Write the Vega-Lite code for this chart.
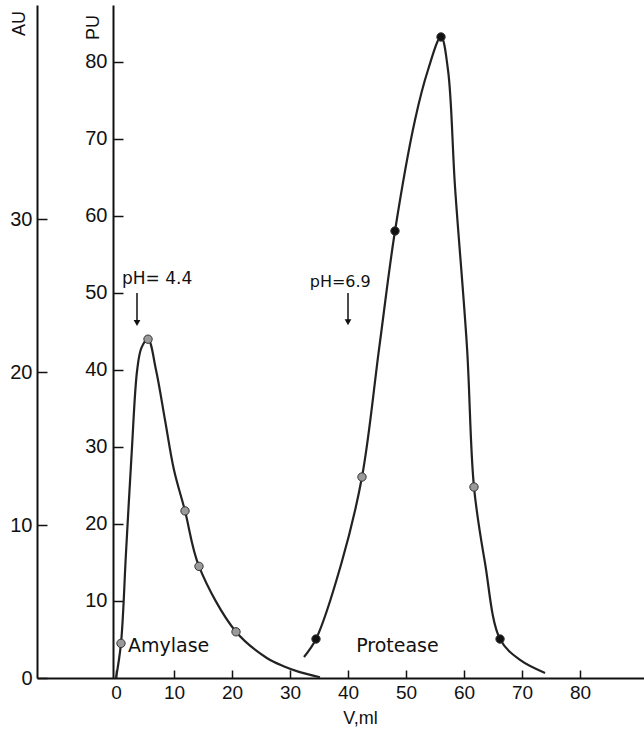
{
  "$schema": "https://vega.github.io/schema/vega-lite/v6.json",
  "width": 607,
  "height": 673,
  "autosize": {"type": "none"},
  "padding": {"left": 37, "top": 5, "right": 0, "bottom": 57},
  "background": "white",
  "config": {
    "view": {"stroke": null},
    "axis": {
      "grid": false,
      "domainColor": "#111",
      "domainWidth": 2,
      "tickColor": "#111",
      "tickWidth": 1.5,
      "labelColor": "#111",
      "titleColor": "#111",
      "labelFont": "Liberation Sans",
      "titleFont": "Liberation Sans",
      "titleFontWeight": "normal"
    }
  },
  "datasets": {
    "curves": [
      {"enzyme": "Amylase", "v": 0, "pu": 0},
      {"enzyme": "Amylase", "v": 0.86, "pu": 4.5},
      {"enzyme": "Amylase", "v": 1.72, "pu": 16.2},
      {"enzyme": "Amylase", "v": 2.7, "pu": 29.2},
      {"enzyme": "Amylase", "v": 3.65, "pu": 40.0},
      {"enzyme": "Amylase", "v": 4.4, "pu": 42.9},
      {"enzyme": "Amylase", "v": 5.52, "pu": 44.0},
      {"enzyme": "Amylase", "v": 6.9, "pu": 40.0},
      {"enzyme": "Amylase", "v": 8.45, "pu": 33.5},
      {"enzyme": "Amylase", "v": 10.0, "pu": 27.0},
      {"enzyme": "Amylase", "v": 11.9, "pu": 21.7},
      {"enzyme": "Amylase", "v": 14.31, "pu": 14.5},
      {"enzyme": "Amylase", "v": 20.69, "pu": 6.0},
      {"enzyme": "Amylase", "v": 26.0, "pu": 2.6},
      {"enzyme": "Amylase", "v": 29.0, "pu": 1.5},
      {"enzyme": "Amylase", "v": 31.55, "pu": 0.8},
      {"enzyme": "Amylase", "v": 35.17, "pu": 0.1},
      {"enzyme": "Protease", "v": 32.41, "pu": 2.73},
      {"enzyme": "Protease", "v": 34.48, "pu": 5.06},
      {"enzyme": "Protease", "v": 38.9, "pu": 15.0},
      {"enzyme": "Protease", "v": 42.41, "pu": 26.1},
      {"enzyme": "Protease", "v": 45.4, "pu": 43.0},
      {"enzyme": "Protease", "v": 48.1, "pu": 58.05},
      {"enzyme": "Protease", "v": 51.55, "pu": 72.47},
      {"enzyme": "Protease", "v": 53.79, "pu": 78.96},
      {"enzyme": "Protease", "v": 56.03, "pu": 83.25},
      {"enzyme": "Protease", "v": 57.24, "pu": 78.96},
      {"enzyme": "Protease", "v": 58.45, "pu": 63.77},
      {"enzyme": "Protease", "v": 60.52, "pu": 42.86},
      {"enzyme": "Protease", "v": 61.72, "pu": 24.8},
      {"enzyme": "Protease", "v": 63.62, "pu": 14.94},
      {"enzyme": "Protease", "v": 66.21, "pu": 5.06},
      {"enzyme": "Protease", "v": 69.66, "pu": 2.34},
      {"enzyme": "Protease", "v": 73.97, "pu": 0.65}
    ],
    "markers": [
      {"enzyme": "Amylase", "v": 0.86, "pu": 4.5, "kind": "open"},
      {"enzyme": "Amylase", "v": 5.52, "pu": 44.0, "kind": "open"},
      {"enzyme": "Amylase", "v": 11.9, "pu": 21.7, "kind": "open"},
      {"enzyme": "Amylase", "v": 14.31, "pu": 14.5, "kind": "open"},
      {"enzyme": "Amylase", "v": 20.69, "pu": 6.0, "kind": "open"},
      {"enzyme": "Protease", "v": 34.48, "pu": 5.06, "kind": "filled"},
      {"enzyme": "Protease", "v": 42.41, "pu": 26.1, "kind": "open"},
      {"enzyme": "Protease", "v": 48.1, "pu": 58.05, "kind": "filled"},
      {"enzyme": "Protease", "v": 56.03, "pu": 83.25, "kind": "filled"},
      {"enzyme": "Protease", "v": 61.72, "pu": 24.8, "kind": "open"},
      {"enzyme": "Protease", "v": 66.21, "pu": 5.06, "kind": "filled"}
    ],
    "arrows": [
      {"v": 3.62, "top": 50.0, "tip": 46.1},
      {"v": 40.0, "top": 50.0, "tip": 46.2}
    ],
    "phlabels": [
      {"v": 1.03, "pu": 51.2, "text": "pH= 4.4", "size": 17},
      {"v": 33.4, "pu": 50.8, "text": "pH=6.9", "size": 16}
    ],
    "names": [
      {"v": 2.07, "pu": 3.38, "text": "Amylase"},
      {"v": 41.4, "pu": 3.38, "text": "Protease"}
    ],
    "au": [
      {"au": 0},
      {"au": 44}
    ]
  },
  "layer": [
    {
      "layer": [
        {
          "data": {"name": "curves"},
          "mark": {"type": "line", "interpolate": "catmull-rom", "color": "#222", "strokeWidth": 2.2},
          "encoding": {
            "x": {
              "field": "v",
              "type": "quantitative",
              "scale": {"domain": [-13.62, 91.03], "nice": false, "zero": false},
              "axis": {
                "values": [0, 10, 20, 30, 40, 50, 60, 70, 80],
                "tickSize": -8,
                "labelPadding": 13,
                "labelFontSize": 19,
                "title": "V,ml",
                "titleFontSize": 18,
                "titleX": 323,
                "titleY": 31,
                "titleAlign": "center",
                "titleBaseline": "top"
              }
            },
            "y": {
              "field": "pu",
              "type": "quantitative",
              "scale": {"domain": [0, 87.4], "nice": false, "zero": true},
              "axis": {
                "orient": "left",
                "offset": -76,
                "values": [10, 20, 30, 40, 50, 60, 70, 80],
                "tickSize": -10,
                "labelPadding": 16,
                "labelFontSize": 20,
                "title": "PU",
                "titleFontSize": 18,
                "titleAngle": -90,
                "titleX": -20,
                "titleY": 22,
                "titleAlign": "center",
                "titleBaseline": "middle"
              }
            },
            "detail": {"field": "enzyme"}
          }
        },
        {
          "data": {"name": "markers"},
          "mark": {"type": "point", "filled": true, "size": 70, "opacity": 1, "stroke": "#333", "strokeWidth": 1},
          "encoding": {
            "x": {"field": "v", "type": "quantitative"},
            "y": {"field": "pu", "type": "quantitative"},
            "color": {
              "field": "kind",
              "type": "nominal",
              "scale": {"domain": ["open", "filled"], "range": ["#9a9a9a", "#111111"]},
              "legend": null
            }
          }
        },
        {
          "data": {"name": "arrows"},
          "mark": {"type": "rule", "color": "#111", "strokeWidth": 1.5},
          "encoding": {
            "x": {"field": "v", "type": "quantitative"},
            "y": {"field": "top", "type": "quantitative"},
            "y2": {"field": "tip"}
          }
        },
        {
          "data": {"name": "arrows"},
          "mark": {"type": "point", "shape": "triangle-down", "filled": true, "size": 45, "color": "#111", "opacity": 1},
          "encoding": {
            "x": {"field": "v", "type": "quantitative"},
            "y": {"field": "tip", "type": "quantitative"}
          }
        },
        {
          "data": {"name": "phlabels"},
          "mark": {"type": "text", "align": "left", "baseline": "alphabetic", "font": "DejaVu Sans", "color": "#111"},
          "encoding": {
            "x": {"field": "v", "type": "quantitative"},
            "y": {"field": "pu", "type": "quantitative"},
            "text": {"field": "text"},
            "size": {"field": "size", "type": "quantitative", "scale": null}
          }
        },
        {
          "data": {"name": "names"},
          "mark": {"type": "text", "align": "left", "baseline": "alphabetic", "font": "DejaVu Sans", "fontSize": 19, "color": "#111"},
          "encoding": {
            "x": {"field": "v", "type": "quantitative"},
            "y": {"field": "pu", "type": "quantitative"},
            "text": {"field": "text"}
          }
        }
      ]
    },
    {
      "data": {"name": "au"},
      "mark": {"type": "point", "opacity": 0},
      "encoding": {
        "y": {
          "field": "au",
          "type": "quantitative",
          "scale": {"domain": [0, 44], "nice": false, "zero": true},
          "axis": {
            "orient": "left",
            "offset": 0,
            "values": [0, 10, 20, 30],
            "tickSize": -10,
            "labelPadding": 15,
            "labelFontSize": 20,
            "title": "AU",
            "titleFontSize": 18,
            "titleAngle": -90,
            "titleX": -18,
            "titleY": 18,
            "titleAlign": "center",
            "titleBaseline": "middle"
          }
        }
      }
    }
  ],
  "resolve": {"scale": {"y": "independent"}, "axis": {"y": "independent"}}
}
